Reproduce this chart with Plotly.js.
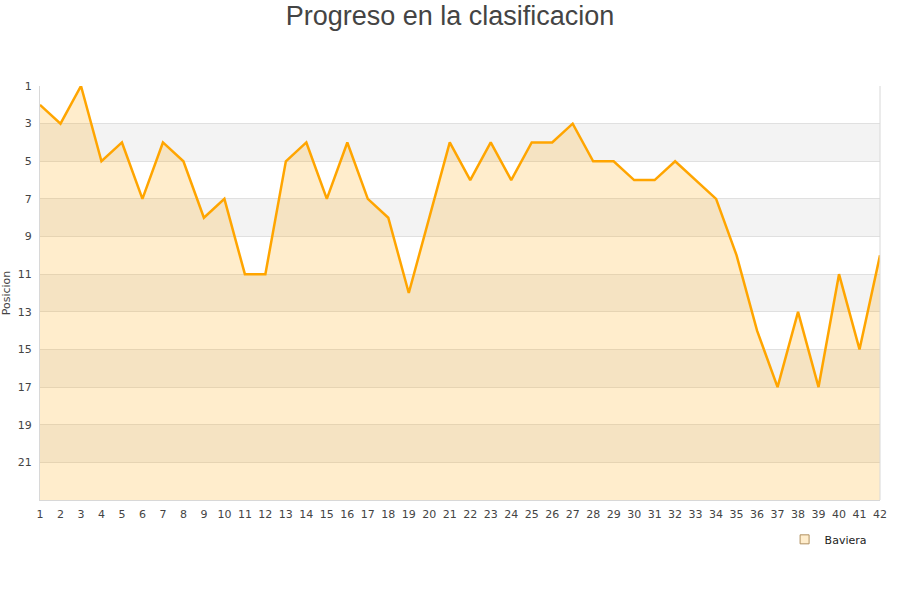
<!DOCTYPE html>
<html>
<head>
<meta charset="utf-8">
<script src="https://cdn.plot.ly/plotly-3.0.1.min.js"></script>
<style>body{margin:0;background:#fff}#chart{width:900px;height:600px}</style>
</head>
<body>
<div id="chart"></div>
<script>
const jornadas = [1,2,3,4,5,6,7,8,9,10,11,12,13,14,15,16,17,18,19,20,21,22,23,24,25,26,27,28,29,30,31,32,33,34,35,36,37,38,39,40,41,42];
const posiciones = [2,3,1,5,4,7,4,5,8,7,11,11,5,4,7,4,7,8,12,8,4,6,4,6,4,4,3,5,5,6,6,5,6,7,10,14,17,13,17,11,15,10];
const equipo = "Baviera";
const yTicks = [1,3,5,7,9,11,13,15,17,19,21];
const bandas = [[3,5],[7,9],[11,13],[15,17],[19,21]];
const fondo = 23;

const base = {
  x: jornadas, y: jornadas.map(() => fondo), mode: 'lines',
  line: {width: 0, color: 'rgba(0,0,0,0)'}, hoverinfo: 'skip', showlegend: false
};
const serie = {
  x: jornadas, y: posiciones, mode: 'lines', name: equipo,
  fill: 'tonexty', fillcolor: 'rgba(255,165,0,0.2)',
  line: {color: '#FFA500', width: 2.5}, showlegend: false
};
const legendTrace = {
  x: [null], y: [null], mode: 'markers', name: equipo,
  marker: {symbol: 'square', size: 9, color: '#FFEDCC', line: {color: '#b09060', width: 1}},
  showlegend: true
};

const shapes = bandas.map(b => ({
  type: 'rect', xref: 'paper', yref: 'y', x0: 0, x1: 1, y0: b[0], y1: b[1],
  fillcolor: '#f3f3f3', line: {width: 0}, layer: 'below'
}));
shapes.push({type: 'line', xref: 'paper', yref: 'paper', x0: 1, x1: 1, y0: 0, y1: 1,
  line: {color: '#d8d8d8', width: 1}});

const layout = {
  width: 900, height: 600,
  margin: {l: 40, r: 20, t: 86, b: 100},
  paper_bgcolor: '#fff', plot_bgcolor: 'rgba(0,0,0,0)',
  title: {text: 'Progreso en la clasificacion', x: 0.5, xanchor: 'center', y: 0.99, yanchor: 'top',
    font: {family: 'Liberation Sans, Arial, sans-serif', size: 27, color: '#444'}},
  font: {family: 'DejaVu Sans, sans-serif', size: 11, color: '#444'},
  xaxis: {range: [1, 42], tickmode: 'array', tickvals: jornadas, ticktext: jornadas.map(String),
    showgrid: false, zeroline: false, showline: true, linecolor: '#d8d8d8', linewidth: 1,
    ticks: '', ticklabelstandoff: 4, tickfont: {size: 11, color: '#444'}, fixedrange: true},
  yaxis: {range: [fondo, 1], tickmode: 'array', tickvals: yTicks, ticktext: yTicks.map(String),
    showgrid: true, gridcolor: '#e0e0e0', gridwidth: 1, zeroline: false,
    showline: true, linecolor: '#d8d8d8', linewidth: 1, ticks: '', ticklabelstandoff: 5,
    tickfont: {size: 11, color: '#444'},
    title: {text: 'Posicion', font: {size: 11, color: '#444'}, standoff: 4}},
  shapes: shapes,
  showlegend: true,
  legend: {x: 0.99, xanchor: 'right', y: -0.06, yanchor: 'top', orientation: 'h',
    font: {size: 11, color: '#222'}, bgcolor: 'rgba(0,0,0,0)'}
};

Plotly.newPlot('chart', [base, serie, legendTrace], layout, {displayModeBar: false, staticPlot: true});
</script>
</body>
</html>
